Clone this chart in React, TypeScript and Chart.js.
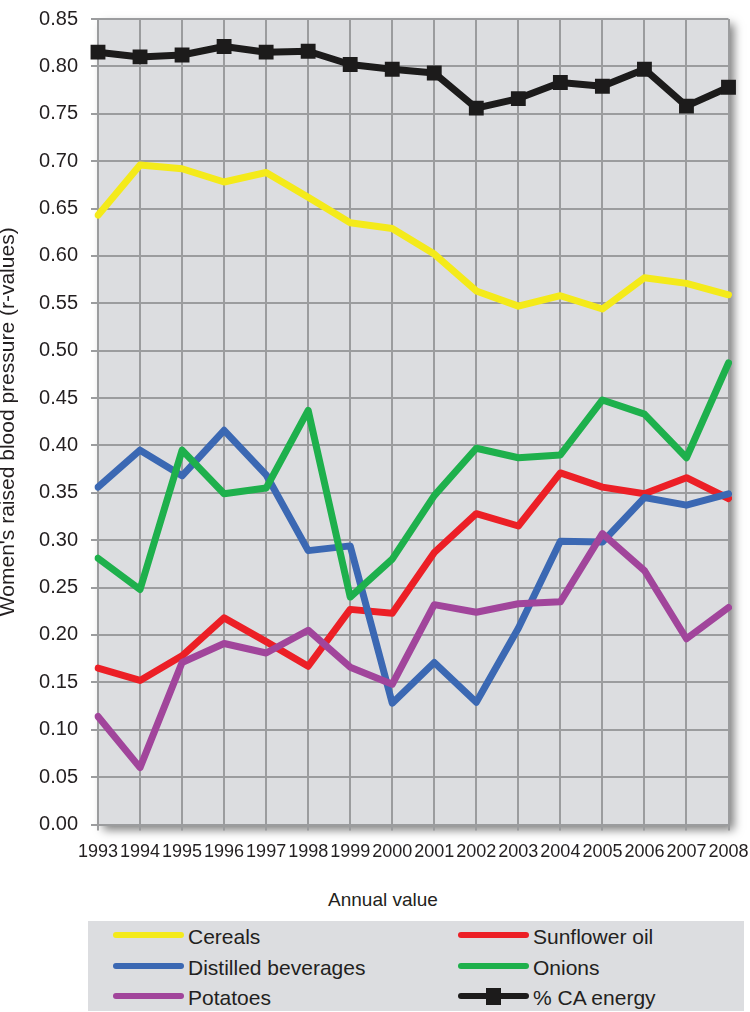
import React, { useEffect, useRef } from 'react';
import { Chart, registerables } from 'chart.js';

Chart.register(...registerables);

const years = ['1993', '1994', '1995', '1996', '1997', '1998', '1999', '2000', '2001', '2002', '2003', '2004', '2005', '2006', '2007', '2008'];

const cereals = [0.643, 0.696, 0.692, 0.678, 0.688, 0.662, 0.635, 0.629, 0.602, 0.563, 0.547, 0.558, 0.544, 0.577, 0.571, 0.559];
const sunflowerOil = [0.165, 0.152, 0.178, 0.218, 0.193, 0.167, 0.227, 0.223, 0.287, 0.328, 0.315, 0.371, 0.356, 0.349, 0.366, 0.344];
const distilledBeverages = [0.356, 0.395, 0.368, 0.416, 0.369, 0.289, 0.294, 0.128, 0.171, 0.129, 0.207, 0.299, 0.298, 0.345, 0.337, 0.349];
const onions = [0.281, 0.248, 0.395, 0.349, 0.355, 0.437, 0.240, 0.280, 0.347, 0.397, 0.387, 0.390, 0.448, 0.433, 0.387, 0.487];
const potatoes = [0.114, 0.060, 0.171, 0.191, 0.181, 0.205, 0.166, 0.148, 0.232, 0.224, 0.233, 0.235, 0.307, 0.268, 0.196, 0.229];
const caEnergy = [0.815, 0.810, 0.812, 0.821, 0.815, 0.816, 0.802, 0.797, 0.793, 0.756, 0.766, 0.783, 0.779, 0.797, 0.758, 0.778];

const yTickValues = [0, 0.05, 0.1, 0.15, 0.2, 0.25, 0.3, 0.35, 0.4, 0.45, 0.5, 0.55, 0.6, 0.65, 0.7, 0.75, 0.8, 0.85];

const yTitle = "Women's raised blood pressure (r-values)";
const xTitle = 'Annual value';

const FONT = '"Liberation Sans", Arial, Helvetica, sans-serif';
const TEXT = '#231f20';
const GRID = '#9b9c9e';
const PLOT_BG = '#dcdde0';

const COLORS = {
  cereals: '#f4ea1a',
  sunflower: '#ec1f26',
  distilled: '#3b68b3',
  onions: '#1eb04c',
  potatoes: '#a1459b',
  ca: '#1c1b1b',
};

// legend layout (row-major, two columns)
const legendItems = [
  { label: 'Cereals', color: COLORS.cereals, marker: false },
  { label: 'Sunflower oil', color: COLORS.sunflower, marker: false },
  { label: 'Distilled beverages', color: COLORS.distilled, marker: false },
  { label: 'Onions', color: COLORS.onions, marker: false },
  { label: 'Potatoes', color: COLORS.potatoes, marker: false },
  { label: '% CA energy', color: COLORS.ca, marker: true },
];

const plotBackground = {
  id: 'plotBackground',
  beforeDraw(chart: any) {
    const { ctx, chartArea } = chart;
    const { left, top, right, bottom } = chartArea;
    ctx.save();
    ctx.shadowColor = 'rgba(0,0,0,0.5)';
    ctx.shadowBlur = 9;
    ctx.shadowOffsetX = 5;
    ctx.shadowOffsetY = 5;
    ctx.fillStyle = PLOT_BG;
    ctx.fillRect(left, top, right - left, bottom - top);
    ctx.restore();
  },
};

function lineDs(label: string, data: number[], color: string, extra: any = {}) {
  return {
    label,
    data,
    borderColor: color,
    backgroundColor: color,
    borderWidth: 7,
    tension: 0,
    fill: false,
    pointRadius: 0,
    borderJoinStyle: 'round',
    borderCapStyle: 'round',
    ...extra,
  };
}

export default function App() {
  const canvasRef = useRef<HTMLCanvasElement | null>(null);

  useEffect(() => {
    if (!canvasRef.current) return;
    const chart = new Chart(canvasRef.current, {
      type: 'line',
      data: {
        labels: years,
        datasets: [
          lineDs('% CA energy', caEnergy, COLORS.ca, {
            pointRadius: 10.5,
            pointStyle: 'rect',
            pointBackgroundColor: COLORS.ca,
            pointBorderColor: COLORS.ca,
            pointBorderWidth: 0,
          }),
          lineDs('Cereals', cereals, COLORS.cereals),
          lineDs('Potatoes', potatoes, COLORS.potatoes),
          lineDs('Onions', onions, COLORS.onions),
          lineDs('Distilled beverages', distilledBeverages, COLORS.distilled),
          lineDs('Sunflower oil', sunflowerOil, COLORS.sunflower),
        ] as any,
      },
      options: {
        animation: false,
        responsive: false,
        maintainAspectRatio: false,
        layout: { padding: 0 },
        plugins: {
          legend: { display: false },
          tooltip: { enabled: false },
        },
        scales: {
          x: {
            type: 'category',
            offset: false,
            grid: { color: GRID, lineWidth: 2, tickLength: 6, drawTicks: true },
            border: { display: true, color: GRID, width: 2 },
            ticks: {
              font: { family: FONT, size: 18 },
              color: TEXT,
              maxRotation: 0,
              minRotation: 0,
              autoSkip: false,
              padding: 11,
            },
            afterFit: (s: any) => {
              s.height = 45.5;
              s.paddingLeft = 0;
              s.paddingRight = 21.5;
            },
          },
          y: {
            min: 0,
            max: 0.85,
            afterBuildTicks: (s: any) => {
              s.ticks = yTickValues.map((v) => ({ value: v }));
            },
            grid: { color: GRID, lineWidth: 2, tickLength: 7, drawTicks: true },
            border: { display: true, color: GRID, width: 2 },
            ticks: {
              font: { family: FONT, size: 20, lineHeight: 0.6 },
              color: TEXT,
              padding: 13,
              callback: (v: any) => Number(v).toFixed(2),
            },
            title: {
              display: true,
              text: yTitle,
              color: TEXT,
              font: { family: FONT, size: 21, lineHeight: 0.8 },
              padding: 0,
            },
            afterFit: (s: any) => {
              s.width = 98;
            },
          },
        },
      } as any,
      plugins: [plotBackground],
    });
    return () => chart.destroy();
  }, []);

  const colX = [25, 370];
  const rowY = [14, 45, 75];

  return (
    <div style={{ position: 'absolute', left: 0, top: 0, width: 750, height: 1012, fontFamily: FONT, color: TEXT }}>
      <canvas ref={canvasRef} width={750} height={870} style={{ display: 'block', width: 750, height: 870 }} />
      <div
        style={{
          position: 'absolute',
          left: 283,
          top: 889,
          width: 200,
          textAlign: 'center',
          fontSize: 19,
          lineHeight: '22px',
        }}
      >
        {xTitle}
      </div>
      <div
        style={{
          position: 'absolute',
          left: 88,
          top: 921,
          width: 656,
          height: 90,
          background: PLOT_BG,
        }}
      >
        {legendItems.map((it, i) => {
          const col = i % 2;
          const row = Math.floor(i / 2);
          return (
            <div
              key={it.label}
              style={{
                position: 'absolute',
                left: colX[col],
                top: rowY[row] - 12,
                height: 24,
                display: 'flex',
                alignItems: 'center',
                whiteSpace: 'nowrap',
              }}
            >
              <span
                style={{
                  position: 'relative',
                  display: 'inline-block',
                  width: 71,
                  height: 6,
                  borderRadius: 3,
                  background: it.color,
                }}
              >
                {it.marker && (
                  <span
                    style={{
                      position: 'absolute',
                      left: 28,
                      top: -5.5,
                      width: 15,
                      height: 17,
                      background: it.color,
                    }}
                  />
                )}
              </span>
              <span style={{ marginLeft: 4, fontSize: 21, lineHeight: '24px', position: 'relative', top: 2 }}>{it.label}</span>
            </div>
          );
        })}
      </div>
    </div>
  );
}
